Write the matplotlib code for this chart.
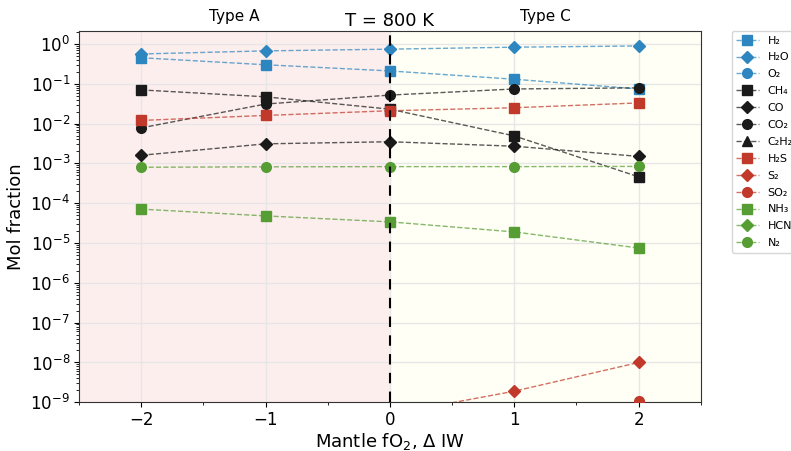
import numpy as np
import matplotlib
matplotlib.use("Agg")
import matplotlib.pyplot as plt
from matplotlib.colors import to_rgba
from matplotlib.ticker import LogLocator, MultipleLocator, NullFormatter

x = [-2, -1, 0, 1, 2]

H2 = [0.45, 0.30, 0.21, 0.13, 0.074]
H2O = [0.56, 0.67, 0.74, 0.83, 0.89]
O2 = [1e-30, 1e-28, 1e-26, 1e-24, 1e-22]
CH4 = [0.07, 0.047, 0.023, 0.0049, 4.6e-4]
CO = [1.6e-3, 3.1e-3, 3.5e-3, 2.7e-3, 1.5e-3]
CO2 = [7.8e-3, 0.031, 0.052, 0.074, 0.079]
C2H2 = [1e-14, 1e-14, 1e-14, 1e-14, 1e-14]
H2S = [0.012, 0.016, 0.021, 0.025, 0.033]
S2 = [2e-11, 1e-10, 5e-10, 1.9e-9, 1.0e-8]
SO2 = [1e-16, 1e-14, 1e-12, 3e-11, 1.1e-9]
NH3 = [7.1e-5, 4.8e-5, 3.4e-5, 1.9e-5, 7.5e-6]
HCN = [1e-12, 1e-12, 1e-12, 1e-12, 1e-12]
N2 = [8.0e-4, 8.2e-4, 8.3e-4, 8.3e-4, 8.4e-4]

labels = ["H₂", "H₂O", "O₂", "CH₄", "CO", "CO₂", "C₂H₂", "H₂S", "S₂", "SO₂", "NH₃", "HCN", "N₂"]
series = [H2, H2O, O2, CH4, CO, CO2, C2H2, H2S, S2, SO2, NH3, HCN, N2]

blue = "#2e86c1"
black = "#1a1a1a"
red = "#c0392b"
green = "#569d33"
colors = [blue] * 3 + [black] * 4 + [red] * 3 + [green] * 3
markers = ["s", "D", "o", "s", "D", "o", "^", "s", "D", "o", "s", "D", "o"]

fig = plt.figure(figsize=(7.91, 4.51), dpi=100)
ax = fig.add_axes([0.100, 0.108, 0.786, 0.823])

ax.axvspan(-2.5, 0, color="#fdeeee", zorder=0)
ax.axvspan(0, 2.5, color="#fffff5", zorder=0)
ax.grid(True, which="major", color="#e6e6e6", linewidth=1.0, zorder=1)
ax.set_axisbelow(True)

for lab, ys, c, m in zip(labels, series, colors, markers):
    ax.plot(x, ys, linestyle="--", color=to_rgba(c, 0.72), linewidth=1.0,
            marker=m, markersize=7 if m != "D" else 6.5,
            markerfacecolor=c, markeredgecolor=c, label=lab, zorder=3)

ax.axvline(0, color="black", linestyle=(0, (5, 4)), linewidth=1.5, zorder=5)

ax.set_yscale("log")
ax.set_xlim(-2.5, 2.5)
ax.set_ylim(1e-9, 2.1)
ax.yaxis.set_major_locator(LogLocator(base=10, numticks=20))
ax.yaxis.set_minor_locator(LogLocator(base=10, subs=np.arange(2, 10), numticks=20))
ax.yaxis.set_minor_formatter(NullFormatter())
ax.xaxis.set_major_locator(MultipleLocator(1))
ax.xaxis.set_minor_locator(MultipleLocator(0.5))
ax.tick_params(axis="both", which="major", labelsize=12, length=3.5, pad=3)
ax.tick_params(axis="both", which="minor", length=2)

ax.set_xlabel("Mantle fO$_2$, Δ IW", fontsize=13, labelpad=1)
ax.set_ylabel("Mol fraction", fontsize=13, labelpad=4)
ax.set_title("T = 800 K", fontsize=13, pad=4)
ax.text(-1.25, 1.018, "Type A", transform=ax.get_xaxis_transform(), ha="center", va="bottom", fontsize=11)
ax.text(1.25, 1.018, "Type C", transform=ax.get_xaxis_transform(), ha="center", va="bottom", fontsize=11)

handles, labs = ax.get_legend_handles_labels()
leg = ax.legend(handles, labs, loc="upper left", bbox_to_anchor=(1.05, 1.0), fontsize=8,
                frameon=True, borderaxespad=0.0, labelspacing=0.62)
leg.get_frame().set_edgecolor("#cccccc")

for s in ax.spines.values():
    s.set_color("#333333")

fig.savefig("out.png", dpi=100)
